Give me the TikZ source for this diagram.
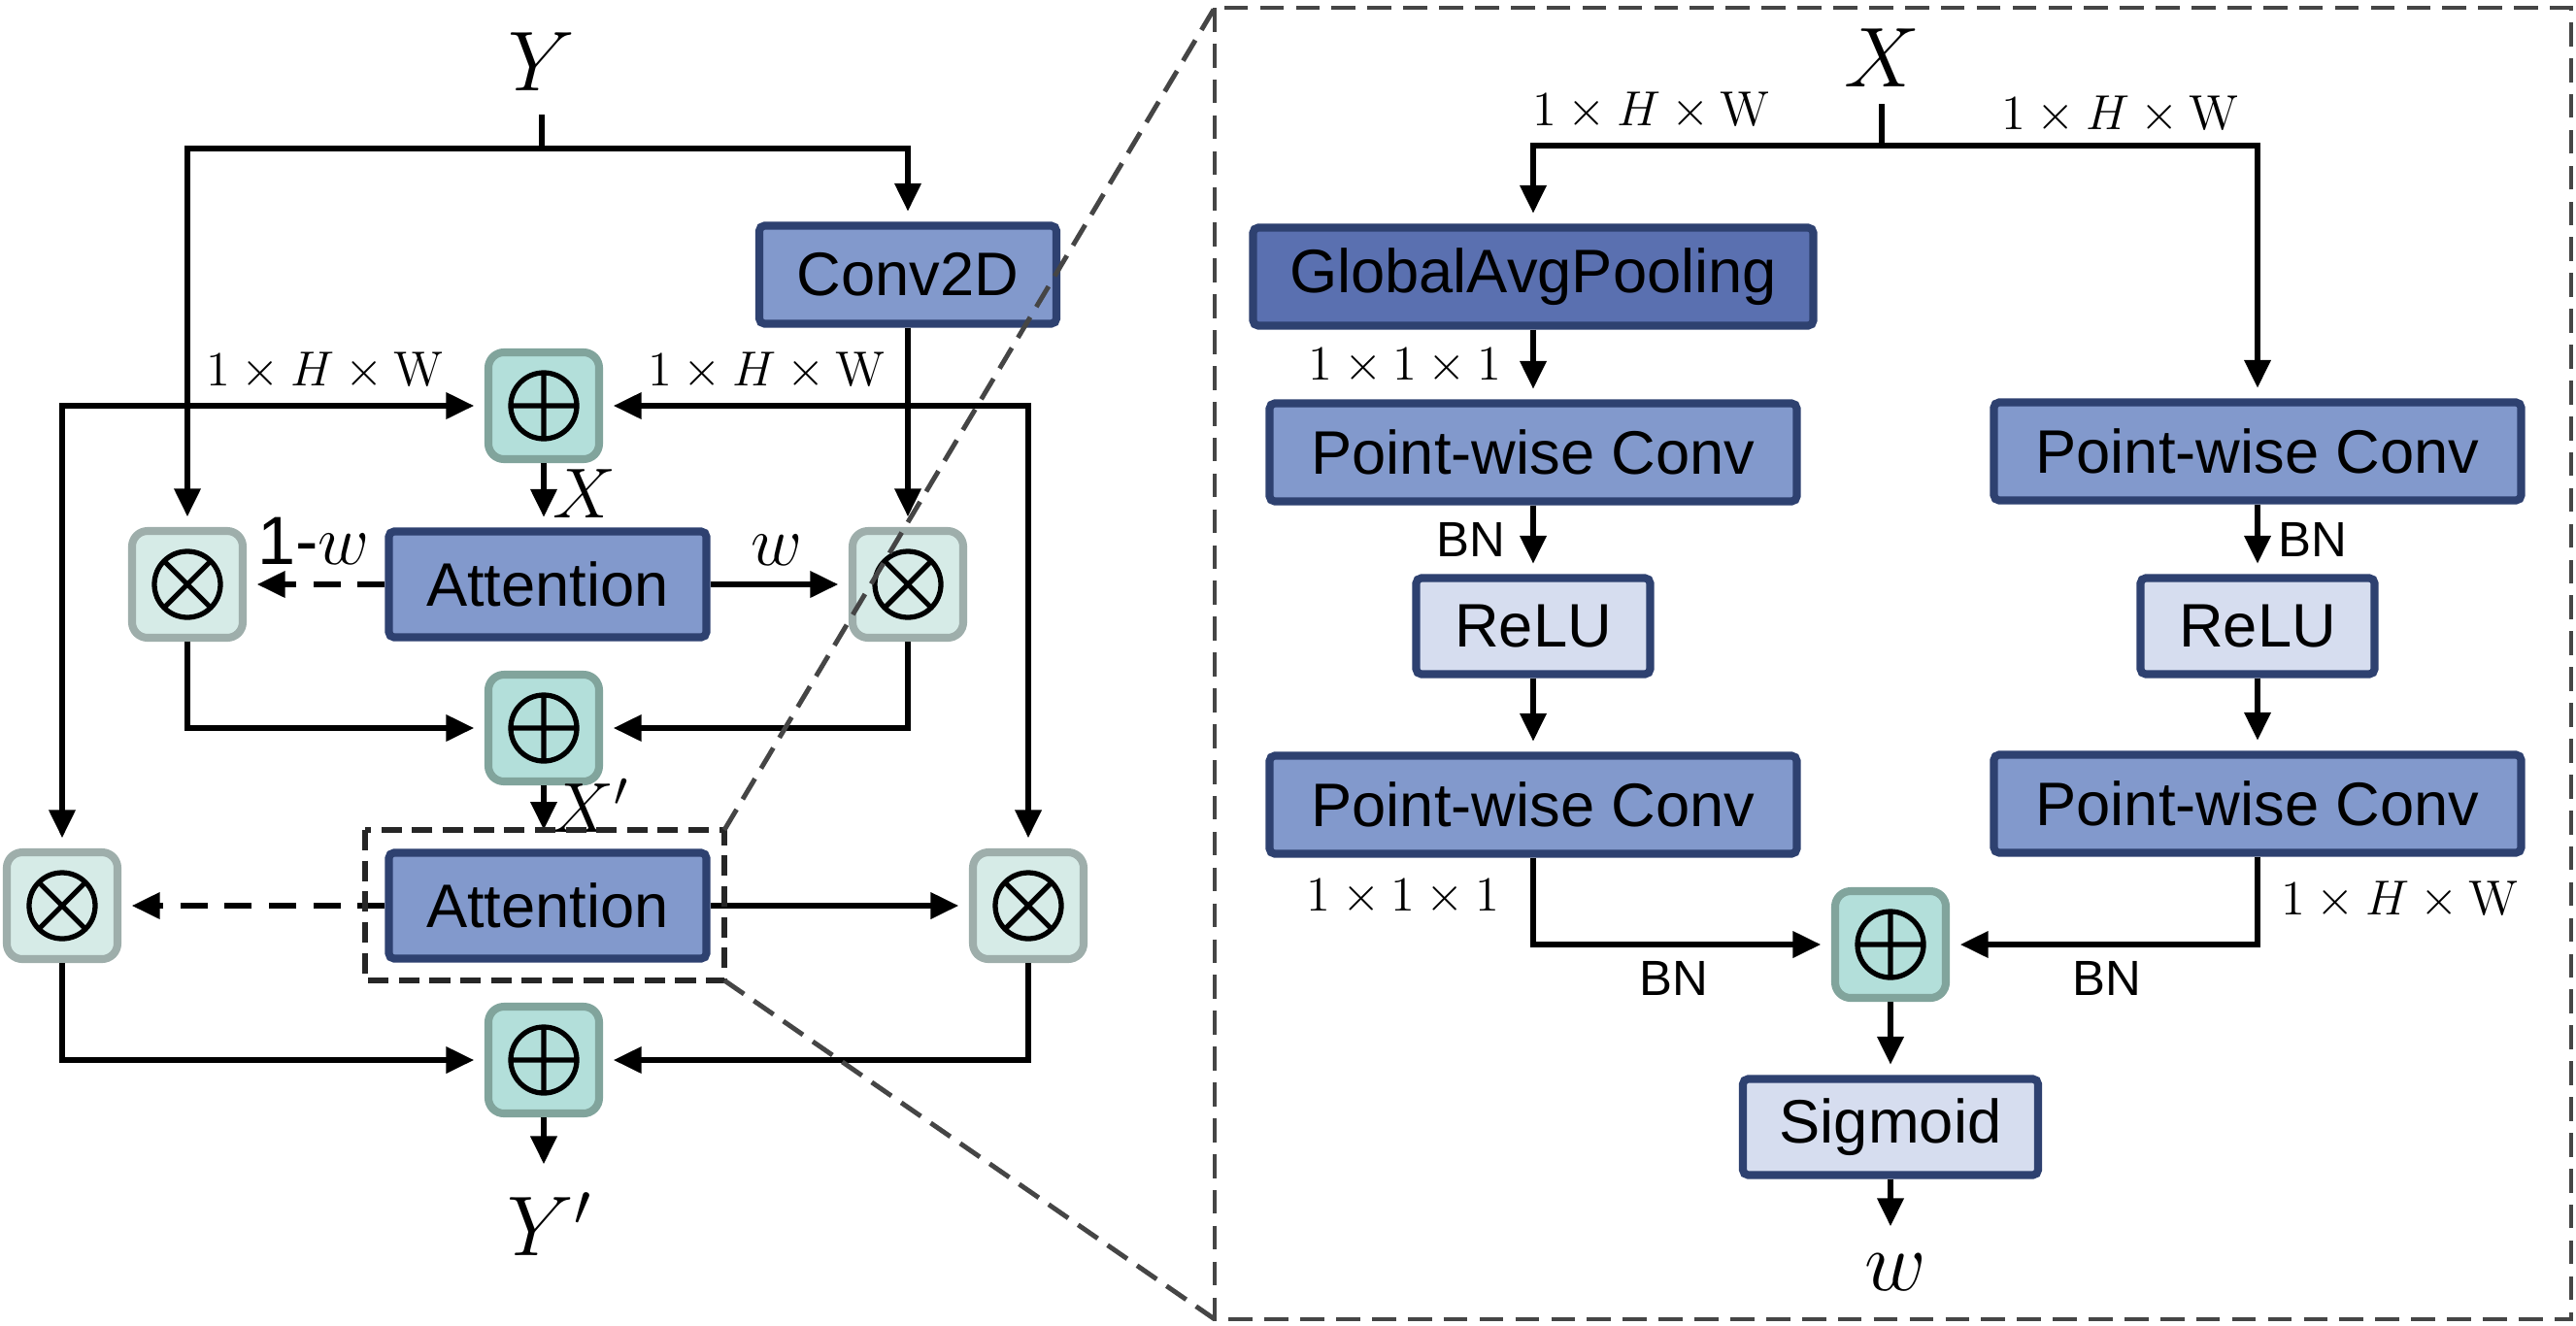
\documentclass[tikz,border=0pt]{standalone}
\usepackage[no-math]{fontspec}
\setmainfont{Liberation Sans}
\usepackage{amsmath}
\usetikzlibrary{arrows.meta}
\definecolor{navy}{HTML}{2E4170}
\definecolor{midblue}{HTML}{8299CC}
\definecolor{darkblue}{HTML}{5A70B0}
\definecolor{paleblue}{HTML}{D6DDEF}
\definecolor{tealfill}{HTML}{B3DFDA}
\definecolor{tealline}{HTML}{81A49C}
\definecolor{mintfill}{HTML}{D6EBE7}
\definecolor{greyline}{HTML}{9EAEAB}
\definecolor{dashgrey}{HTML}{454545}
\begin{document}
\begin{tikzpicture}[>={Triangle[length=.29cm,width=.26cm]},line width=1.85pt,
 blk/.style={draw=navy,line width=2.3pt,fill=midblue,rounded corners=1.5pt,inner sep=0pt,minimum height=1.01cm,font=\fontsize{18}{21}\selectfont},
 lightbox/.style={blk,fill=paleblue,minimum height=.99cm},
 darkbox/.style={blk,fill=darkblue},
 opbox/.style={line width=2.3pt,rounded corners=.16cm,minimum width=1.14cm,minimum height=1.10cm,inner sep=0pt},
 addbox/.style={opbox,draw=tealline,fill=tealfill,path picture={\draw[black,line width=1.5pt,sharp corners] (path picture bounding box.center) circle(.34) +(0,.34)--+(0,-.34) +(-.34,0)--+(.34,0);}},
 mulbox/.style={opbox,draw=greyline,fill=mintfill,path picture={\draw[black,line width=1.5pt,sharp corners] (path picture bounding box.center) circle(.34) +(45:.34)--+(225:.34) +(135:.34)--+(-45:.34);}},
 flow/.style={->,shorten >=3pt},
 both/.style={<->,shorten >=3pt,shorten <=3pt},
 weak/.style={flow,dash pattern=on 8pt off 5pt},
 zoomline/.style={dashgrey,line width=1.4pt,dash pattern=on 7pt off 3.5pt},
 dim/.style={font=\fontsize{14}{16}\selectfont},
 bn/.style={font=\fontsize{14.5}{17}\selectfont},
 var/.style={font=\fontsize{23}{27}\selectfont},
 varsm/.style={font=\fontsize{20}{24}\selectfont}]
\useasboundingbox (0,0) rectangle (26.53,-13.65);
\node[var] (Yin) at (5.58,-.64) {$Y$};
\coordinate (ytop) at (5.58,-1.18);\coordinate (ysplit) at (5.58,-1.53);
\node[blk,minimum width=3.06cm] (conv) at (9.35,-2.83) {Conv2D};
\node[addbox] (addA) at (5.60,-4.18) {};
\node[mulbox] (mulA) at (1.93,-6.02) {};
\node[mulbox] (mulB) at (9.35,-6.02) {};
\node[blk,minimum width=3.27cm,minimum height=1.09cm] (attA) at (5.64,-6.02) {Attention};
\node[addbox] (addB) at (5.60,-7.50) {};
\node[blk,minimum width=3.27cm,minimum height=1.09cm] (attB) at (5.64,-9.33) {Attention};
\node[mulbox] (mulC) at (.64,-9.33) {};
\node[mulbox] (mulD) at (10.59,-9.33) {};
\node[addbox] (addC) at (5.60,-10.92) {};
\coordinate (yend) at (5.60,-12.10);
\node[var] (Yout) at (5.66,-12.61) {$Y'$};
\coordinate (znw) at (3.76,-8.55);\coordinate (zse) at (7.46,-10.10);
\draw (ytop)--(ysplit);
\draw[flow] (ysplit) -| (mulA);
\draw[flow] (ysplit) -| (conv);
\draw[flow] (conv)--(mulB);
\draw[both] (mulC) |- (addA);
\draw[both] (mulD) |- (addA);
\node[dim] (dimA) at (3.35,-3.82) {$1\times H\times\mathrm{W}$};
\node[dim] (dimB) at (7.90,-3.82) {$1\times H\times\mathrm{W}$};
\draw[flow] (addA)--(addA|-attA.north);
\node[varsm] (xA) at (6.02,-5.09) {$X$};
\draw[weak] (attA)--(mulA);
\node[varsm] (wA) at (3.23,-5.57) {1-$w$};
\draw[flow] (attA)--(mulB);
\node[varsm] (wB) at (8.00,-5.67) {$w$};
\draw[flow] (mulA) |- (addB);
\draw[flow] (mulB) |- (addB);
\draw[->] (addB)--(addB|-znw);
\node[varsm] (xB) at (6.08,-8.30) {$X'$};
\draw[weak] (attB)--(mulC);
\draw[flow] (attB)--(mulD);
\draw[flow] (mulC) |- (addC);
\draw[flow] (mulD) |- (addC);
\draw[flow] (addC)--(yend);
\draw[black!85,line width=1.5pt,dash pattern=on 6pt off 3pt] (znw) rectangle (zse);
\coordinate (fnw) at (12.51,-.08);\coordinate (fse) at (26.48,-13.59);
\draw[zoomline] (fnw) rectangle (fse);
\draw[zoomline] (zse|-znw)--(fnw);
\draw[zoomline] (zse)--(fnw|-fse);
\node[var] (Xin) at (19.38,-.60) {$X$};
\coordinate (xtop) at (19.38,-1.07);\coordinate (xsplit) at (19.38,-1.50);
\node[darkbox,minimum width=5.77cm] (gap) at (15.79,-2.85) {GlobalAvgPooling};
\node[blk,minimum width=5.43cm] (pwA) at (15.79,-4.66) {Point-wise Conv};
\node[blk,minimum width=5.43cm] (pwB) at (23.25,-4.65) {Point-wise Conv};
\node[lightbox,minimum width=2.41cm] (reluA) at (15.79,-6.45) {ReLU};
\node[lightbox,minimum width=2.41cm] (reluB) at (23.25,-6.45) {ReLU};
\node[blk,minimum width=5.43cm] (pwC) at (15.79,-8.29) {Point-wise Conv};
\node[blk,minimum width=5.43cm] (pwD) at (23.25,-8.28) {Point-wise Conv};
\node[addbox] (addR) at (19.47,-9.73) {};
\node[lightbox,minimum width=3.04cm] (sig) at (19.47,-11.61) {Sigmoid};
\coordinate (wend) at (19.47,-12.74);
\node[var] (wout) at (19.52,-13.11) {$w$};
\draw (xtop)--(xsplit);
\draw[flow] (xsplit) -| (gap);
\draw[flow] (xsplit) -| (pwB);
\node[dim] (dimC) at (17.01,-1.14) {$1\times H\times\mathrm{W}$};
\node[dim] (dimD) at (21.84,-1.18) {$1\times H\times\mathrm{W}$};
\draw[flow] (gap)--(pwA);
\node[dim] (dimE) at (14.47,-3.77) {$1\times1\times1$};
\draw[flow] (pwA)--(reluA);
\node[bn] (bnA) at (15.15,-5.56) {BN};
\draw[flow] (pwB)--(reluB);
\node[bn] (bnB) at (23.82,-5.56) {BN};
\draw[flow] (reluA)--(pwC);
\draw[flow] (reluB)--(pwD);
\draw[flow] (pwC) |- (addR);
\draw[flow] (pwD) |- (addR);
\node[dim] (dimF) at (14.45,-9.24) {$1\times1\times1$};
\node[dim] (dimG) at (24.72,-9.27) {$1\times H\times\mathrm{W}$};
\node[bn] (bnC) at (17.24,-10.08) {BN};
\node[bn] (bnD) at (21.70,-10.08) {BN};
\draw[flow] (addR)--(sig);
\draw[flow] (sig)--(wend);
\end{tikzpicture}
\end{document}
